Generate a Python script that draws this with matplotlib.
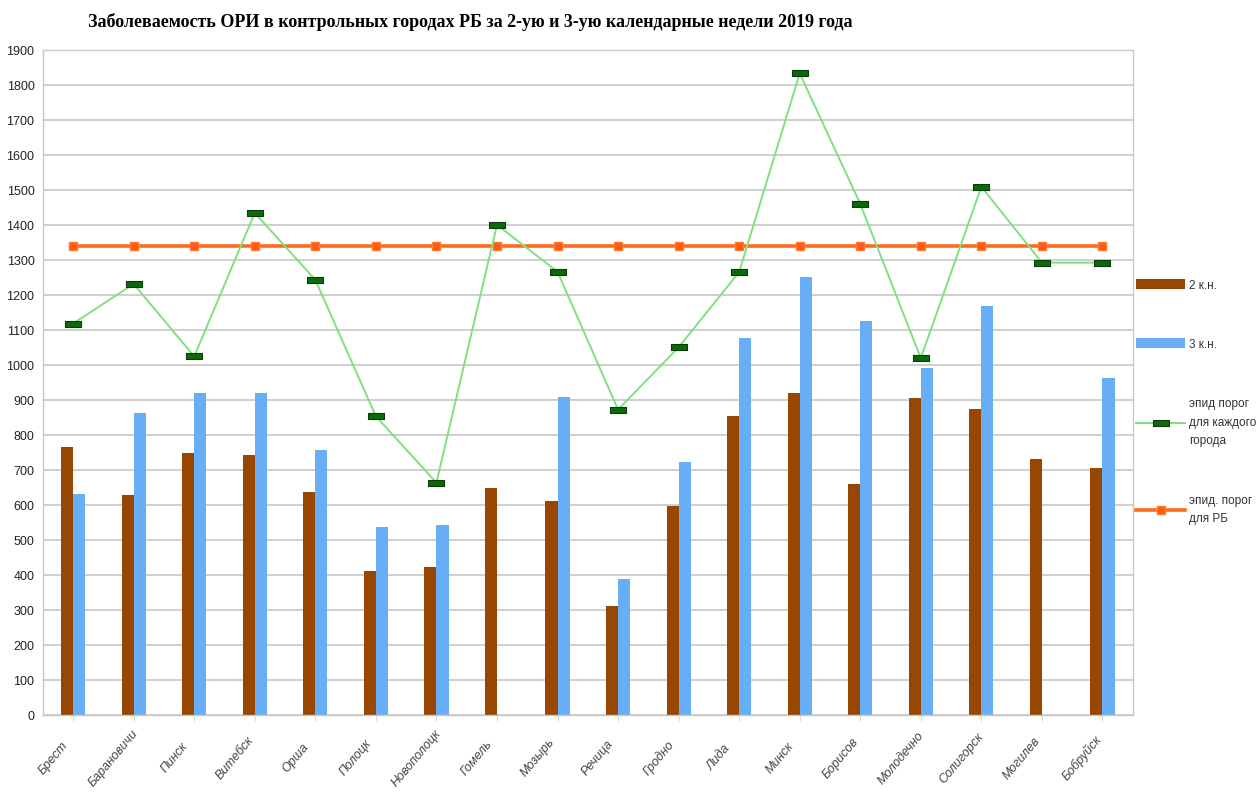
import matplotlib
matplotlib.use('Agg')
import matplotlib.pyplot as plt
import matplotlib.transforms as mtransforms
import numpy as np
from matplotlib.path import Path

cities = ['Брест', 'Барановичи', 'Пинск', 'Витебск', 'Орша', 'Полоцк', 'Новополоцк',
          'Гомель', 'Мозырь', 'Речица', 'Гродно', 'Лида', 'Минск', 'Борисов',
          'Молодечно', 'Солигорск', 'Могилев', 'Бобруйск']
week2 = [767, 629, 749, 744, 638, 412, 424, 649, 611, 313, 596, 855, 919, 659, 905, 875, 733, 707]
week3 = [633, 862, 919, 919, 757, 537, 542, 0, 909, 388, 724, 1078, 1251, 1126, 991, 1168, 0, 963]
city_threshold = [1119, 1232, 1025, 1435, 1244, 854, 664, 1401, 1267, 873, 1051, 1266,
                  1834, 1461, 1020, 1510, 1293, 1293]
rb_threshold = [1340] * len(cities)

x = np.arange(len(cities))
sans = ['Liberation Sans', 'DejaVu Sans']

fig = plt.figure(figsize=(12.6, 7.98), dpi=100)
ax = fig.add_axes([0.034, 0.104, 0.865, 0.833])

bw = 0.2
b2 = ax.bar(x - bw / 2, week2, width=bw, color='#984700', label='2 к.н.', zorder=2)
b3 = ax.bar(x + bw / 2, week3, width=bw, color='#68aef7', label='3 к.н.', zorder=2)

# flat rectangle marker for the per-city threshold
rect = Path([(-1, -0.45), (1, -0.45), (1, 0.45), (-1, 0.45), (-1, -0.45)])
l1, = ax.plot(x, city_threshold, color='#80e080', lw=1.4, marker=rect, markersize=11,
              markerfacecolor='#0a6a0a', markeredgecolor='#0b3a0b', markeredgewidth=0.8,
              label='эпид порог\nдля каждого\nгорода', zorder=4)
l2, = ax.plot(x, rb_threshold, color='#ff6a20', lw=2.6, marker='s', markersize=6,
              markerfacecolor='#ff5a10', markeredgecolor='#ff7a30',
              label='эпид. порог\nдля РБ', zorder=3)

ax.set_xlim(-0.5, len(cities) - 0.5)
ax.set_ylim(0, 1900)
ax.set_yticks(np.arange(0, 2000, 100))
ax.yaxis.grid(True, color='#cccccc', lw=1.3, zorder=0)
ax.set_axisbelow(True)
for s in ax.spines.values():
    s.set_color('#c8c8c8')
    s.set_linewidth(1.0)
ax.tick_params(axis='y', length=0, labelsize=9, labelcolor='#222222', pad=6)
ax.tick_params(axis='x', length=4, color='#f0d8c0', labelsize=9, labelcolor='#444444', pad=27)
ax.set_xticks(x)
ax.set_xticklabels(cities, rotation=50, ha='center', va='center',
                   style='italic', family=sans)
shift = mtransforms.ScaledTranslation(-0.2, 0, fig.dpi_scale_trans)
for lab in ax.get_xticklabels():
    lab.set_transform(lab.get_transform() + shift)
for lab in ax.get_yticklabels():
    lab.set_family(sans)

fig.text(0.373, 0.972, 'Заболеваемость ОРИ в контрольных городах РБ за 2-ую и 3-ую календарные недели 2019 года',
         ha='center', va='center', fontsize=13, fontweight='bold',
         family=['Liberation Serif', 'DejaVu Serif'])

leg = fig.legend([b2, b3, l1, l2], [b2.get_label(), b3.get_label(), l1.get_label(), l2.get_label()],
                 loc='upper left', bbox_to_anchor=(0.893, 0.663), frameon=False,
                 handlelength=4.2, labelspacing=4.0, handletextpad=0.3,
                 prop={'family': sans, 'size': 8.5})
for h in leg.legend_handles[:2]:
    h.set_height(7)
for t in leg.get_texts():
    t.set_linespacing(1.75)
    t.set_color('#333333')

fig.savefig('out.png', dpi=100)
